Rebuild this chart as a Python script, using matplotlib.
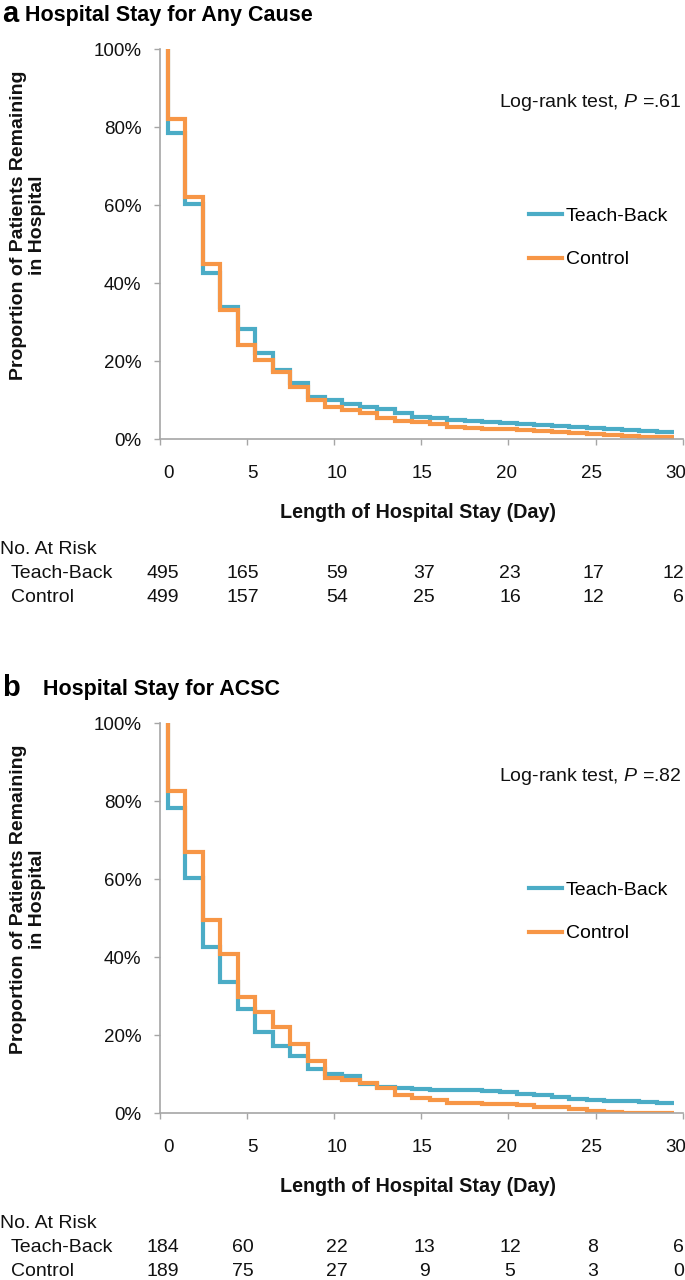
import numpy as np
import matplotlib
matplotlib.use('Agg')
import matplotlib.pyplot as plt
from matplotlib.lines import Line2D

plt.rcParams['font.family'] = ['Liberation Sans', 'DejaVu Sans']
plt.rcParams['mathtext.fontset'] = 'custom'
plt.rcParams['mathtext.it'] = 'Liberation Sans:italic'
plt.rcParams['mathtext.rm'] = 'Liberation Sans'

# ---- data (proportion remaining, %, one value per day step) ----
days = np.arange(0, 30)
x_tick_labels = ['0', '5', '10', '15', '20', '25', '30']
groups = ['Teach-Back', 'Control']

a_teach = [78.5, 60.2, 42.7, 33.9, 28.3, 22.1, 17.7, 14.3, 10.8, 9.9,
           9.0, 8.1, 7.8, 6.6, 5.7, 5.3, 5.0, 4.7, 4.4, 4.2,
           3.8, 3.5, 3.3, 3.2, 2.7, 2.5, 2.3, 2.1, 1.9]
a_control = [82.0, 62.1, 44.8, 33.1, 24.1, 20.4, 17.1, 13.4, 10.1, 8.1,
             7.4, 6.6, 5.3, 4.7, 4.3, 3.8, 3.2, 2.9, 2.6, 2.5,
             2.3, 2.1, 1.7, 1.5, 1.2, 1.0, 0.7, 0.6, 0.5]
a_risk_teach = ['495', '165', '59', '37', '23', '17', '12']
a_risk_control = ['499', '157', '54', '25', '16', '12', '6']
a_title = 'Hospital Stay for Any Cause'
a_pval = '.61'

b_teach = [78.2, 60.2, 42.5, 33.5, 26.6, 20.9, 17.3, 14.6, 11.2, 10.0,
           9.5, 7.4, 6.8, 6.4, 6.2, 5.9, 5.9, 5.8, 5.7, 5.4,
           5.0, 4.5, 4.1, 3.6, 3.3, 3.1, 3.1, 2.8, 2.5]
b_control = [82.7, 67.1, 49.5, 40.8, 29.7, 25.8, 22.0, 17.7, 13.3, 9.0,
             8.4, 7.8, 6.4, 4.7, 3.9, 3.3, 2.6, 2.5, 2.3, 2.3,
             2.1, 1.6, 1.6, 0.9, 0.4, 0.3, 0.1, 0.0, 0.0]
b_risk_teach = ['184', '60', '22', '13', '12', '8', '6']
b_risk_control = ['189', '75', '27', '9', '5', '3', '0']
b_title = 'Hospital Stay for ACSC'
b_pval = '.82'

TEAL = '#4BACC6'
ORANGE = '#F79646'
GRAY = '#A6A6A6'
TXT = '#111111'

W, H = 685, 1280
fig = plt.figure(figsize=(W / 100, H / 100), dpi=100)


def fx(x):
    return x / W


def fy(y):
    return 1 - y / H


# at-risk column anchors (pixels); last column is right-aligned
risk_cols = [163, 243, 337, 424, 510, 593, 684]


def step_xy(vals):
    xs = np.concatenate([[days[0]], days])
    ys = np.concatenate([[100.0], vals, [vals[-1]]])
    return xs, ys


def draw_panel(dy, letter, title, title_x, teach, control, pval, risk_t, risk_c):
    left, right = 160, 682.7
    top, bottom = 49.3 + dy, 439 + dy
    ax = fig.add_axes([fx(left), fy(bottom), fx(right - left), (bottom - top) / H])

    for vals, col in ((teach, TEAL), (control, ORANGE)):
        xs, ys = step_xy(vals)
        ax.plot(xs, ys, drawstyle='steps-post', color=col, lw=3.0,
                solid_joinstyle='miter', solid_capstyle='butt')

    ax.set_xlim(-0.46, 29.5)
    ax.set_ylim(0, 100)
    for s in ('top', 'right'):
        ax.spines[s].set_visible(False)
    for s in ('left', 'bottom'):
        ax.spines[s].set_color(GRAY)
        ax.spines[s].set_linewidth(1.2)

    ax.set_yticks(np.arange(0, 101, 20))
    ax.set_yticklabels([f'{v}%' for v in range(0, 101, 20)])
    ax.tick_params(axis='y', length=4.3, width=1.0, color=GRAY, pad=9,
                   labelsize=13.5, labelcolor=TXT)

    ax.set_xticks(np.linspace(-0.46, 29.5, 7))
    ax.set_xticklabels([])
    ax.tick_params(axis='x', which='major', length=4.3, width=1.0, color=GRAY)
    ax.set_xticks(np.linspace(0, 29.1, 7), minor=True)
    ax.set_xticklabels(x_tick_labels, minor=True)
    ax.tick_params(axis='x', which='minor', length=0, pad=19,
                   labelsize=13.5, labelcolor=TXT)

    # legend
    handles = [Line2D([], [], color=TEAL, lw=3.0), Line2D([], [], color=ORANGE, lw=3.0)]
    ax.legend(handles, groups, loc='upper left',
              bbox_to_anchor=(fx(529), fy(207 + dy)), bbox_transform=fig.transFigure,
              frameon=False, fontsize=14, handlelength=1.7, handletextpad=0.2,
              labelspacing=1.35, borderpad=0, borderaxespad=0)

    fig.text(fx(681.7), fy(102.5 + dy), 'Log-rank test, $\\it{P}$ =' + pval,
             ha='right', va='center', fontsize=14, color=TXT)

    # titles
    fig.text(fx(2), fy(14 + dy), letter, ha='left', va='center',
             fontsize=21, fontweight='bold', color='black')
    fig.text(fx(title_x), fy(15 + dy), title, ha='left', va='center',
             fontsize=15.5, fontweight='bold', color='black')

    # axis labels
    fig.text(fx(28), fy(225 + dy), 'Proportion of Patients Remaining\nin Hospital',
             rotation=90, ha='center', va='center', multialignment='center',
             fontsize=14, fontweight='bold', linespacing=1.15, color=TXT)
    fig.text(fx(418), fy(513 + dy), 'Length of Hospital Stay (Day)',
             ha='center', va='center', fontsize=14.2, fontweight='bold', color=TXT)

    # number at risk table
    fig.text(fx(0), fy(549 + dy), 'No. At Risk', ha='left', va='center',
             fontsize=14, color=TXT)
    for row_y, name, vals in ((573, groups[0], risk_t), (598, groups[1], risk_c)):
        fig.text(fx(11), fy(row_y + dy), name, ha='left', va='center',
                 fontsize=14, color=TXT)
        for i, (cx, v) in enumerate(zip(risk_cols, vals)):
            fig.text(fx(cx), fy(row_y + dy), v, va='center',
                     ha='right' if i == len(vals) - 1 else 'center',
                     fontsize=14, color=TXT)
    return ax


draw_panel(0, 'a', a_title, 25, a_teach, a_control, a_pval, a_risk_teach, a_risk_control)
draw_panel(674, 'b', b_title, 43, b_teach, b_control, b_pval, b_risk_teach, b_risk_control)

fig.savefig('out.png', dpi=100)
